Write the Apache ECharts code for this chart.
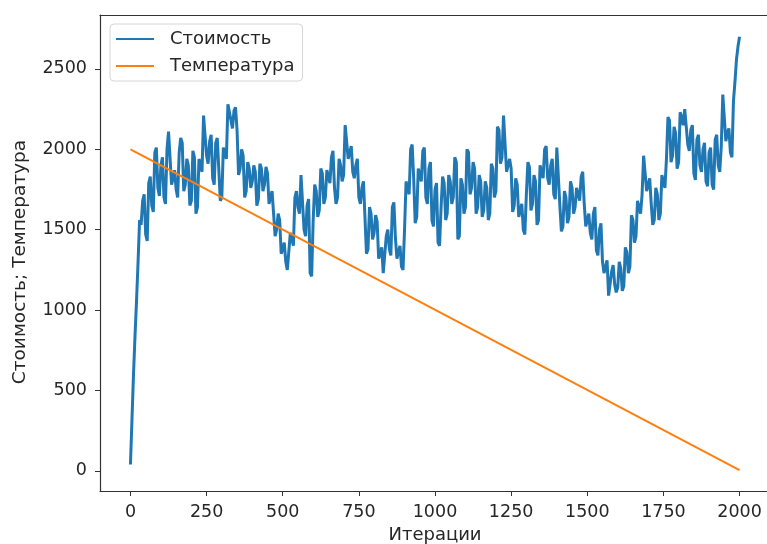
<!DOCTYPE html>
<html>
<head>
<meta charset="utf-8">
<title>Стоимость и температура</title>
<script src="https://cdn.jsdelivr.net/npm/echarts@6/dist/echarts.min.js"></script>
<style>
  html, body { margin: 0; padding: 0; background: #fff; }
  #chart { width: 767px; height: 544px; }
</style>
</head>
<body>
<div id="chart"></div>
<script>
// Cost sampled every COST_STEP iterations of the annealing run
const COST_STEP = 5;
const costValues = [
  40, 320, 600, 840, 1060, 1300, 1560, 1530, 1680, 1720,
  1470, 1430, 1790, 1830, 1650, 1610, 1980, 2010, 1760, 1710,
  1900, 1950, 1700, 1660, 2000, 2110, 2100, 1780, 1820, 1870,
  1750, 1700, 1980, 2070, 2040, 1740, 1780, 1940, 1900, 1650,
  1680, 1990, 1950, 1600, 1640, 1940, 1900, 1860, 2210, 2220,
  1960, 1910, 2050, 2090, 1820, 1780, 2040, 2070, 1880, 1680,
  1700, 2010, 1980, 1940, 2280, 2290, 2180, 2130, 2240, 2260,
  2120, 1840, 1880, 2000, 1960, 1700, 1740, 1920, 1880, 1760,
  1800, 1900, 1860, 1650, 1690, 1910, 1880, 1740, 1780, 1890,
  1850, 1660, 1700, 1740, 1600, 1460, 1500, 1600, 1560, 1350,
  1380, 1420, 1300, 1250, 1260, 1480, 1440, 1400, 1700, 1740,
  1640, 1600, 1840, 1850, 1500, 1460, 1650, 1690, 1230, 1210,
  1560, 1780, 1740, 1580, 1620, 1880, 1850, 1660, 1700, 1870,
  1830, 1790, 1950, 1990, 1760, 1660, 1700, 1940, 1900, 1800,
  1840, 2150, 2140, 1940, 1980, 2020, 1860, 1820, 1900, 1940,
  1700, 1660, 1760, 1800, 1580, 1350, 1380, 1640, 1600, 1440,
  1480, 1590, 1550, 1320, 1350, 1390, 1230, 1220, 1460, 1500,
  1380, 1340, 1640, 1670, 1450, 1320, 1360, 1400, 1270, 1250,
  1500, 1800, 1760, 1720, 2000, 2030, 1820, 1540, 1580, 1880,
  1840, 1800, 1990, 2010, 1700, 1660, 1880, 1920, 1560, 1520,
  1750, 1790, 1420, 1400, 1640, 1830, 1790, 1560, 1600, 1840,
  1800, 1660, 1700, 1950, 1920, 1440, 1460, 1820, 1780, 1600,
  1640, 2000, 1980, 1720, 1760, 1920, 1880, 1600, 1640, 1840,
  1800, 1580, 1620, 1800, 1760, 1560, 1600, 1910, 1880, 1700,
  1740, 2140, 2120, 1910, 1950, 2210, 2200, 1860, 1900, 1940,
  1880, 1610, 1650, 1820, 1780, 1580, 1620, 1660, 1500, 1470,
  1720, 1920, 1890, 1620, 1660, 1840, 1800, 1530, 1560, 1900,
  1860, 1820, 2000, 2020, 1820, 1780, 1900, 1940, 1720, 1690,
  2010, 2020, 1650, 1490, 1520, 1740, 1700, 1540, 1580, 1800,
  1760, 1600, 1640, 1760, 1720, 1680, 1830, 1860, 1660, 1520,
  1560, 1600, 1480, 1440, 1600, 1640, 1370, 1340, 1500, 1540,
  1300, 1230, 1270, 1310, 1090, 1100, 1240, 1280, 1160, 1110,
  1140, 1300, 1260, 1120, 1150, 1390, 1360, 1230, 1270, 1590,
  1560, 1420, 1460, 1680, 1640, 1600, 1720, 1960, 1950, 1740,
  1780, 1820, 1660, 1530, 1560, 1760, 1720, 1560, 1600, 1840,
  1800, 1760, 1940, 2200, 2180, 1920, 1960, 2140, 2100, 1880,
  1920, 2230, 2200, 2150, 2250, 2260, 2030, 1990, 2120, 2150,
  1850, 1810, 2060, 2090, 1900, 1860, 2000, 2040, 1800, 1770,
  1980, 2010, 1780, 1750, 2060, 2090, 1900, 1860, 2020, 2340,
  2330, 2050, 2100, 2130, 1980, 1950, 2300, 2420, 2560, 2640,
  2700
];

// Temperature falls linearly over the run
const tempIterations = [0, 2000];
const tempValues = [2000, 5];

const xTicks = [0, 250, 500, 750, 1000, 1250, 1500, 1750, 2000];
const yTicks = [0, 500, 1000, 1500, 2000, 2500];

const seriesNames = ['Стоимость', 'Температура'];
const xTitle = 'Итерации';
const yTitle = 'Стоимость; Температура';

const costData = costValues.map((v, i) => [i * COST_STEP, v]);
const tempData = tempIterations.map((x, i) => [x, tempValues[i]]);

const FONT = 'DejaVu Sans';
const TEXT = '#262626';
const SPINE = '#333';
const plain = (v) => String(v);

const chart = echarts.init(document.getElementById('chart'), null, { renderer: 'canvas' });
chart.setOption({
  animation: false,
  backgroundColor: '#ffffff',
  grid: {
    left: 100, right: -3, top: 15, bottom: 53,
    outerBoundsMode: 'none',
    containLabel: false,
    show: false
  },
  legend: {
    orient: 'vertical',
    left: 110, top: 24,
    padding: [6, 8, 6, 6],
    itemGap: 9,
    itemWidth: 38, itemHeight: 2,
    icon: 'rect',
    backgroundColor: 'rgba(255,255,255,0.85)',
    borderColor: '#d6d6d6', borderWidth: 1, borderRadius: 4,
    textStyle: { fontFamily: FONT, fontSize: 18, color: TEXT, padding: [0, 0, 0, 11] },
    data: seriesNames
  },
  xAxis: [
    {
      type: 'value',
      min: -100, max: 2100,
      name: xTitle,
      nameLocation: 'middle',
      nameGap: 34,
      nameTextStyle: { fontFamily: FONT, fontSize: 18, color: TEXT },
      axisLine: { show: true, onZero: false, lineStyle: { color: SPINE, width: 1.2 } },
      axisTick: { show: true, length: 5, lineStyle: { color: SPINE }, customValues: xTicks },
      axisLabel: { fontFamily: FONT, fontSize: 17.5, color: TEXT, margin: 12, formatter: plain, customValues: xTicks },
      splitLine: { show: false }
    },
    {
      // top frame line
      type: 'value',
      position: 'top',
      min: -100, max: 2100,
      axisLine: { show: true, onZero: false, lineStyle: { color: SPINE, width: 1.2 } },
      axisTick: { show: false },
      axisLabel: { show: false },
      splitLine: { show: false }
    }
  ],
  yAxis: {
    type: 'value',
    min: -125, max: 2835,
    name: yTitle,
    nameLocation: 'middle',
    nameGap: 70,
    nameTextStyle: { fontFamily: FONT, fontSize: 18.5, color: TEXT, padding: [0, 18, 0, 0] },
    axisLine: { show: true, onZero: false, lineStyle: { color: SPINE, width: 1.2 } },
    axisTick: { show: true, length: 5, lineStyle: { color: SPINE }, customValues: yTicks },
    axisLabel: { fontFamily: FONT, fontSize: 17.5, color: TEXT, margin: 13, formatter: plain, customValues: yTicks },
    splitLine: { show: false }
  },
  series: [
    {
      name: seriesNames[0],
      type: 'line',
      data: costData,
      symbol: 'none',
      lineStyle: { color: '#1f77b4', width: 3 },
      itemStyle: { color: '#1f77b4' },
      z: 2
    },
    {
      name: seriesNames[1],
      type: 'line',
      data: tempData,
      symbol: 'none',
      lineStyle: { color: '#ff7f0e', width: 2 },
      itemStyle: { color: '#ff7f0e' },
      z: 3
    }
  ]
});
</script>
</body>
</html>
